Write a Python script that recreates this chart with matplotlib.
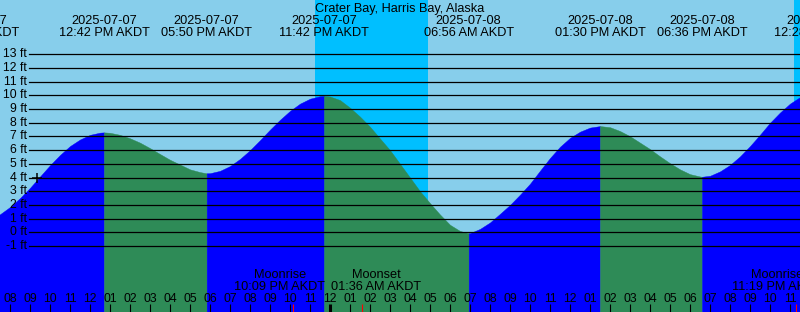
import numpy as np
import pandas as pd
import matplotlib
matplotlib.use('Agg')
import matplotlib.pyplot as plt

plt.rcParams['font.family'] = ['Liberation Sans', 'DejaVu Sans']

title = 'Crater Bay, Harris Bay, Alaska'
start = pd.Timestamp('2025-07-07 00:00')

# tide height read every half hour, from 07:00 on 2025-07-07 (hours from midnight)
tide_hours = np.arange(7, 48.5, 0.5)
tide_ft = [0.90, 1.32, 1.85, 2.50, 3.25, 4.08, 4.90, 5.65, 6.30, 6.78,
           7.12, 7.28, 7.27, 7.12, 6.87, 6.55, 6.15, 5.72, 5.30, 4.95,
           4.60, 4.40, 4.32, 4.49, 4.84, 5.36, 6.00, 6.73, 7.50, 8.22,
           8.87, 9.40, 9.76, 9.94, 9.92, 9.66, 9.10, 8.45, 7.71, 6.85,
           6.00, 5.00, 4.00, 3.00, 2.13, 1.30, 0.55, 0.10, -0.06, 0.25,
           0.72, 1.35, 2.00, 2.75, 3.55, 4.50, 5.43, 6.25, 6.90, 7.35,
           7.65, 7.76, 7.68, 7.40, 7.02, 6.55, 6.08, 5.55, 5.05, 4.60,
           4.25, 4.08, 4.13, 4.45, 4.92, 5.55, 6.30, 7.13, 8.00, 8.75,
           9.40, 9.88, 10.15]

# high / low tides
extreme_times = ['2025-07-07 06:12', '2025-07-07 12:42', '2025-07-07 17:50',
                 '2025-07-07 23:42', '2025-07-08 06:56', '2025-07-08 13:30',
                 '2025-07-08 18:36', '2025-07-09 00:28']
extreme_ft = [0.60, 7.30, 4.31, 9.96, -0.07, 7.76, 4.06, 10.20]

# sunset, sunrise, sunset
sun_times = ['2025-07-07 23:15', '2025-07-08 04:53', '2025-07-08 23:12']

moon_times = ['2025-07-07 22:09', '2025-07-08 01:36', '2025-07-08 23:19']
moon_names = ['Moonrise', 'Moonset', 'Moonrise']

now_time = '2025-07-07 09:22'
now_ft = 3.95

ft_levels = list(range(-1, 14))

# layout (pixels)
W, H = 800, 312
moon_label_dx = [-13, 14, -19]
day_color = '#87CEEB'
night_color = '#00BFFF'
rise_color = '#0000FF'
fall_color = '#2E8B57'


def to_h(s):
    return (pd.Timestamp(s) - start).total_seconds() / 3600


def yf(px):
    return 1 - px / H


ext_h = [to_h(s) for s in extreme_times]
sun_h = [to_h(s) for s in sun_times]
moon_h = [to_h(s) for s in moon_times]

fig = plt.figure(figsize=(W / 100, H / 100), dpi=100, facecolor=day_color)
ax = fig.add_axes([0, 0, 1, 1])
x0, x1 = 7.5, 47.5
y0, y1 = -5.82, 16.97
ax.set_xlim(x0, x1)
ax.set_ylim(y0, y1)
ax.axis('off')
xt = ax.get_xaxis_transform()

# night
ax.axvspan(sun_h[0], sun_h[1], color=night_color, lw=0, zorder=0)
ax.axvspan(sun_h[2], x1 + 1, color=night_color, lw=0, zorder=0)

# tide curve: readings plus the extremes
t = np.concatenate([tide_hours, ext_h])
y = np.concatenate([tide_ft, extreme_ft])
order = np.argsort(t, kind='stable')
t, y = t[order], y[order]

for i in range(len(ext_h) - 1):
    m = (t >= ext_h[i] - 1e-6) & (t <= ext_h[i + 1] + 1e-6)
    c = rise_color if extreme_ft[i + 1] > extreme_ft[i] else fall_color
    ax.fill_between(t[m], y[m], y0 - 1, color=c, lw=0.3, zorder=1)

# grid lines and labels
for v in ft_levels:
    ax.axhline(v, xmin=29 / W, xmax=1, color='black', lw=0.9, zorder=2)
    ax.text(27 / W, v, f'{v} ft', transform=ax.get_yaxis_transform(),
            ha='right', va='center', fontsize=8.8, zorder=3)

ax.plot([to_h(now_time)], [now_ft], marker='+', color='black', ms=6.5,
        mew=1.1, zorder=4)

# title and tide labels
ax.text(0.5, yf(11.7), title, transform=ax.transAxes, ha='center',
        va='baseline', fontsize=9.2)
for s, h in zip(extreme_times, ext_h):
    ts = pd.Timestamp(s)
    ax.text(h, yf(24), ts.strftime('%Y-%m-%d'), transform=xt, ha='center',
            va='baseline', fontsize=9.2)
    ax.text(h, yf(36), ts.strftime('%I:%M %p AKDT'), transform=xt,
            ha='center', va='baseline', fontsize=9.2)

# hour ticks
for h in range(8, 48):
    lw = 2.2 if h % 24 == 0 else 0.8
    ax.vlines(h, 0, 8 / H, transform=xt, color='black', lw=lw, zorder=4)
    ax.text(h, yf(302), f'{(h - 1) % 12 + 1:02d}', transform=xt,
            ha='center', va='baseline', fontsize=8.8, zorder=3)

# moon
for name, s, h, dx in zip(moon_names, moon_times, moon_h, moon_label_dx):
    ax.vlines(h, 0, 8 / H, transform=xt, color='red', lw=0.8, zorder=5)
    hx = h + dx * (x1 - x0) / W
    ax.text(hx, yf(277.7), name, transform=xt, ha='center', va='baseline',
            fontsize=9.2, zorder=3)
    ax.text(hx, yf(289.7), pd.Timestamp(s).strftime('%I:%M %p AKDT'),
            transform=xt, ha='center', va='baseline', fontsize=9.2, zorder=3)

fig.savefig('out.png', dpi=100, facecolor=day_color)
